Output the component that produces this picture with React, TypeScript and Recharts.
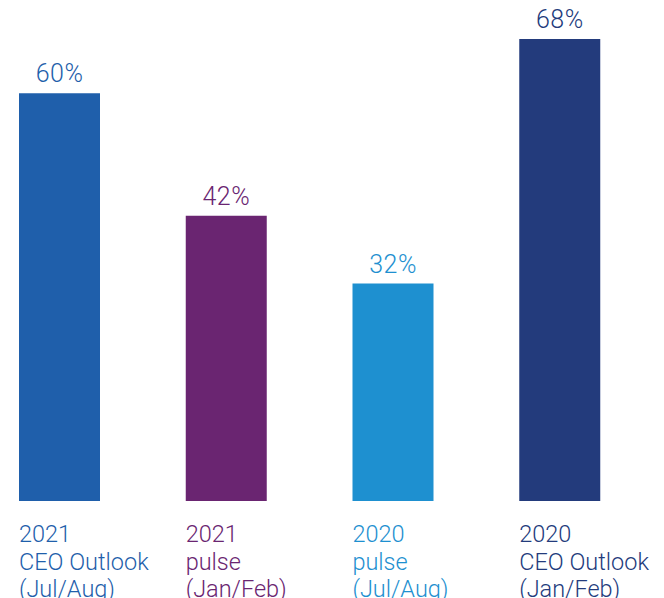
import { Bar, BarChart, Cell, LabelList, XAxis, YAxis } from "recharts";

const years = ["2021", "2021", "2020", "2020"];
const surveys = ["CEO Outlook", "pulse", "pulse", "CEO Outlook"];
const periods = ["(Jul/Aug)", "(Jan/Feb)", "(Jul/Aug)", "(Jan/Feb)"];
const shares = [60, 42, 32, 68];
const colors = ["#1f5fab", "#6a2571", "#1e90d0", "#233b7c"];

const data = shares.map((v, i) => ({ name: `${years[i]} ${surveys[i]} ${periods[i]}`, value: v }));

const fontFamily = "Roboto, 'Liberation Sans', sans-serif";

function CategoryTick(props: any) {
  const { x, y, payload } = props;
  const i = payload.index;
  const left = x - 40.5;
  const lines = [years[i], surveys[i], periods[i]];
  return (
    <g>
      {lines.map((t, k) => (
        <text
          key={k}
          x={left}
          y={y + 33 + k * 27.5}
          fill={colors[i]}
          fontSize={23.5}
          fontWeight={300}
          fontFamily={fontFamily}
          textAnchor="start"
        >
          {t}
        </text>
      ))}
    </g>
  );
}

function ValueLabel(props: any) {
  const { x, y, width, value, index } = props;
  return (
    <text
      x={x + width / 2}
      y={y - 11}
      fill={colors[index]}
      fontSize={25}
      fontWeight={300}
      fontFamily={fontFamily}
      textAnchor="middle"
      letterSpacing={0.5}
    >
      {`${value}%`}
    </text>
  );
}

export default function App() {
  return (
    <div
      style={{
        position: "absolute",
        left: 0,
        top: 0,
        width: 664,
        height: 598,
        overflow: "hidden",
        background: "#fff",
      }}
    >
      <div style={{ position: "absolute", left: -24, top: 0 }}>
        <BarChart
          width={700}
          height={598}
          data={data}
          margin={{ top: 39, right: 33, left: 0, bottom: 0 }}
          barSize={81}
        >
          <XAxis
            dataKey="name"
            axisLine={false}
            tickLine={false}
            height={97}
            interval={0}
            tick={<CategoryTick />}
          />
          <YAxis hide domain={[0, 68]} />
          <Bar dataKey="value" isAnimationActive={false}>
            {data.map((_, i) => (
              <Cell key={i} fill={colors[i]} />
            ))}
            <LabelList dataKey="value" content={<ValueLabel />} />
          </Bar>
        </BarChart>
      </div>
    </div>
  );
}
